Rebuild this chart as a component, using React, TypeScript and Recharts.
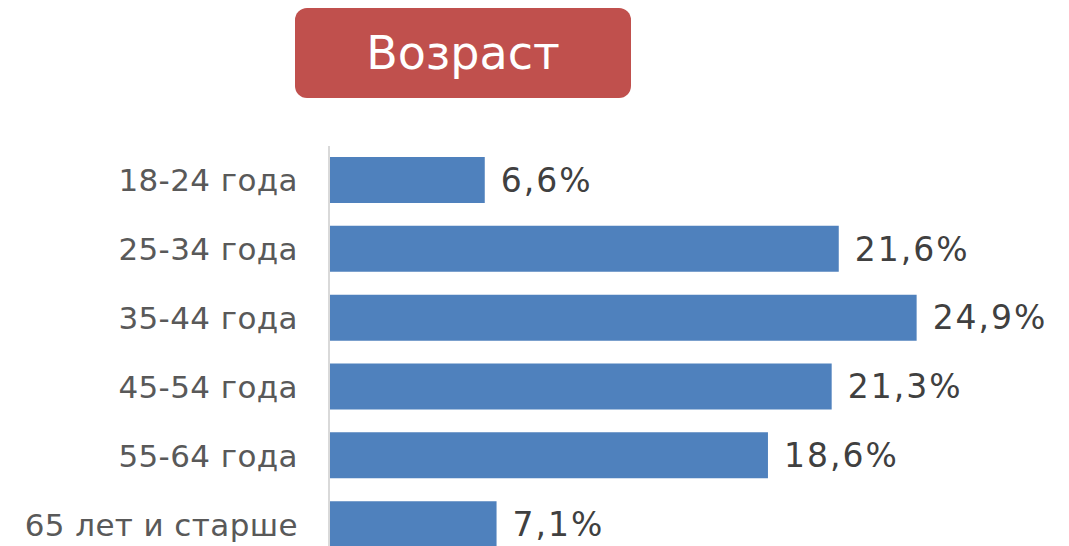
import { BarChart, Bar, XAxis, YAxis, LabelList } from 'recharts';

const ageGroups = ['18-24 года', '25-34 года', '35-44 года', '45-54 года', '55-64 года', '65 лет и старше'];
const shares = [6.6, 21.6, 24.9, 21.3, 18.6, 7.1];

const data = ageGroups.map((group, i) => ({ group, share: shares[i] }));

const formatShare = (v: number) => `${v.toFixed(1).replace('.', ',')}%`;

export default function App() {
  return (
    <div style={{ position: 'relative', left: -8, top: -8, width: 1069, height: 546, overflow: 'hidden', background: '#fff' }}>
      <div
        style={{
          position: 'absolute',
          left: 295,
          top: 8,
          width: 336,
          height: 90,
          background: '#C0504D',
          borderRadius: 12,
          color: '#fff',
          fontFamily: '"DejaVu Sans", Verdana, sans-serif',
          fontSize: 46,
          display: 'flex',
          alignItems: 'center',
          justifyContent: 'center',
        }}
      >
        Возраст
      </div>
      <BarChart
        layout="vertical"
        width={1069}
        height={600}
        data={data}
        margin={{ top: 146, right: 32, left: 0, bottom: 41 }}
        barSize={46}
      >
        <XAxis type="number" domain={[0, 30]} hide />
        <YAxis
          type="category"
          dataKey="group"
          width={329}
          axisLine={{ stroke: '#d9d9d9', strokeWidth: 2 }}
          tickLine={false}
          tickMargin={25}
          tick={{ fontSize: 31, fill: '#595959', fontFamily: '"DejaVu Sans", Verdana, sans-serif', letterSpacing: 0.4 }}
          interval={0}
        />
        <Bar dataKey="share" fill="#4F81BD" isAnimationActive={false}>
          <LabelList
            dataKey="share"
            position="right"
            offset={16}
            formatter={(v: number) => formatShare(v)}
            style={{ fontSize: 33, fill: '#404040', fontFamily: '"DejaVu Sans", Verdana, sans-serif', letterSpacing: 2 }}
          />
        </Bar>
      </BarChart>
    </div>
  );
}
